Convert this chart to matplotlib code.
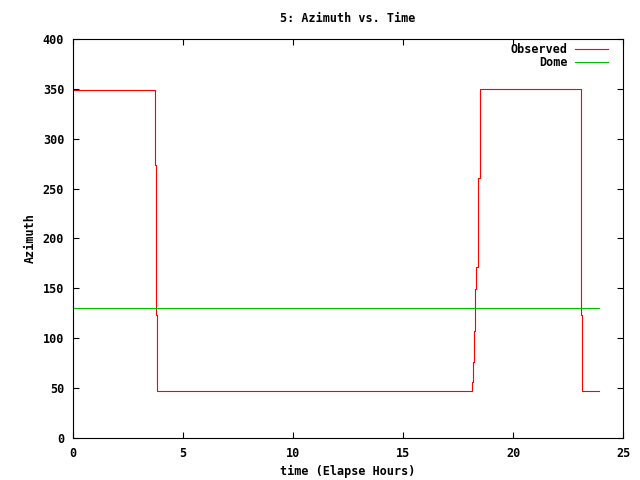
import matplotlib
matplotlib.use('Agg')
import matplotlib.pyplot as plt

# observed azimuth (stepwise) and dome position
obs_hours = [0, 3.76, 3.80, 3.85, 18.14, 18.18, 18.23, 18.27, 18.32, 18.41, 18.48, 23.06, 23.08, 23.13, 23.90]
obs_azimuth = [349, 274, 123, 47, 56, 76, 107, 149, 171, 261, 350, 275, 123, 47, 47]
dome_hours = [0, 23.90]
dome_azimuth = [130, 130]

plt.rcParams['font.family'] = ['DejaVu Sans Mono']
plt.rcParams['font.size'] = 8.5
plt.rcParams['font.weight'] = 'bold'

fig = plt.figure(figsize=(6.4, 4.8), dpi=100)
ax = fig.add_axes([0.1133, 0.0869, 0.8609, 0.8325])

ax.plot(obs_hours, obs_azimuth, drawstyle='steps-post', color='#ff0000', lw=0.8, label='Observed')
ax.plot(dome_hours, dome_azimuth, color='#00c000', lw=0.8, label='Dome')

ax.set_xlim(0, 25)
ax.set_ylim(0, 400)
ax.set_xticks(range(0, 26, 5))
ax.set_yticks(range(0, 401, 50))
ax.tick_params(direction='in', length=4, width=0.8, top=True, right=True, pad=6)
for s in ax.spines.values():
    s.set_linewidth(0.8)

ax.set_title('5: Azimuth vs. Time', pad=12, fontweight='bold', fontsize=8.5)
ax.set_xlabel('time (Elapse Hours)', labelpad=4, fontweight='bold')
ax.set_ylabel('Azimuth', labelpad=4, fontweight='bold')

ax.legend(loc='upper right', bbox_to_anchor=(0.972, 0.99), frameon=False, markerfirst=False,
          handlelength=2.8, labelspacing=0.0, borderpad=0, borderaxespad=0, handletextpad=0.6)

fig.savefig('out.png', dpi=100)
